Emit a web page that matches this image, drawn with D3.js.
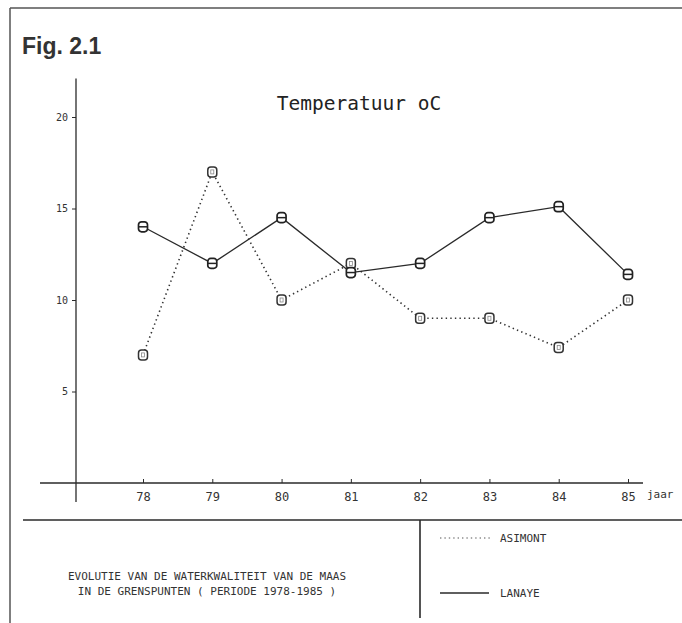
<!DOCTYPE html>
<html><head><meta charset="utf-8">
<script src="https://cdn.jsdelivr.net/npm/d3@7"></script>
<style>
html,body{margin:0;padding:0;background:#fff;overflow:hidden;}
svg{display:block;}
</style></head>
<body>
<script>
const years = [78, 79, 80, 81, 82, 83, 84, 85];
const asimont = [7, 17, 10, 12, 9, 9, 7.4, 10];
const lanaye = [14, 12, 14.5, 11.5, 12, 14.5, 15.1, 11.4];
const yTicks = [5, 10, 15, 20];
const seriesNames = ["ASIMONT", "LANAYE"];
const captionLines = ["EVOLUTIE VAN DE WATERKWALITEIT VAN DE MAAS", "IN DE GRENSPUNTEN ( PERIODE 1978-1985 )"];

const W = 682, H = 623;
const ink = "#2a2a2a";
const mono = "'DejaVu Sans Mono', 'Liberation Mono', monospace";
const svg = d3.select("body").append("svg").attr("width", W).attr("height", H);

const x = d3.scaleLinear().domain([78, 85]).range([143, 628]);
const y = d3.scaleLinear().domain([0, 20]).range([483, 117]);

// frame
svg.append("line").attr("x1", 10).attr("x2", 10).attr("y1", 8).attr("y2", H).attr("stroke", "#555").attr("stroke-width", 1.5);
svg.append("line").attr("x1", 10).attr("x2", W).attr("y1", 8).attr("y2", 8).attr("stroke", "#555").attr("stroke-width", 1.5);

svg.append("text").attr("x", 22).attr("y", 54).text("Fig. 2.1")
  .attr("font-family", "'Liberation Sans', Arial, sans-serif").attr("font-weight", "bold")
  .attr("font-size", 23).attr("fill", "#333");

svg.append("text").attr("x", 359).attr("y", 110).attr("text-anchor", "middle")
  .text("Temperatuur oC").attr("font-family", mono).attr("font-size", 19.5).attr("fill", "#222");

// axes
const x0 = x(78) - 103, x1 = x(85) + 15;
svg.append("line").attr("x1", x0).attr("x2", x1).attr("y1", y(0)).attr("y2", y(0)).attr("stroke", ink).attr("stroke-width", 1.3);
const yAxisX = 76;
svg.append("line").attr("x1", yAxisX).attr("x2", yAxisX).attr("y1", y(22.1)).attr("y2", y(0) + 19).attr("stroke", ink).attr("stroke-width", 1.3);

const xAxis = d3.axisTop(x).tickValues(years).tickSize(4).tickFormat(d => d);
const gx = svg.append("g").attr("transform", `translate(0,${y(0)})`).call(xAxis);
gx.select(".domain").remove();
gx.selectAll(".tick line").attr("stroke", ink);
gx.selectAll(".tick text").attr("y", 18).attr("dy", 0).attr("font-family", mono).attr("font-size", 12).attr("fill", "#333");
svg.append("text").attr("x", 647).attr("y", 498).text("jaar").attr("font-family", mono).attr("font-size", 11).attr("fill", "#333");

const yAxis = d3.axisLeft(y).tickValues(yTicks).tickSize(4).tickFormat(d => d);
const gy = svg.append("g").attr("transform", `translate(${yAxisX},0)`).call(yAxis);
gy.select(".domain").remove();
gy.selectAll(".tick line").attr("stroke", ink);
gy.selectAll(".tick text").attr("x", -8).attr("font-family", mono).attr("font-size", 10).attr("fill", "#333");

// lines
const line = d3.line().x((d, i) => x(years[i])).y(d => y(d));
svg.append("path").datum(asimont).attr("d", line).attr("fill", "none").attr("stroke", "#333")
  .attr("stroke-width", 1.6).attr("stroke-dasharray", "1.4,3.2");
svg.append("path").datum(lanaye).attr("d", line).attr("fill", "none").attr("stroke", ink).attr("stroke-width", 1.3);

// markers
const mw = 9, mh = 10;
const ga = svg.selectAll(".ma").data(asimont).enter().append("g")
  .attr("transform", (d, i) => `translate(${x(years[i])},${y(d)})`);
ga.append("rect").attr("x", -mw / 2).attr("y", -mh / 2).attr("width", mw).attr("height", mh).attr("rx", 3)
  .attr("fill", "#fff").attr("stroke", "#333").attr("stroke-width", 1.5);
ga.append("rect").attr("x", -1.5).attr("y", -2).attr("width", 3).attr("height", 4).attr("fill", "none").attr("stroke", "#888").attr("stroke-width", 0.8);

const gl = svg.selectAll(".ml").data(lanaye).enter().append("g")
  .attr("transform", (d, i) => `translate(${x(years[i])},${y(d)})`);
gl.append("rect").attr("x", -mw / 2).attr("y", -mh / 2).attr("width", mw).attr("height", mh).attr("rx", 3)
  .attr("fill", "#fff").attr("stroke", "#222").attr("stroke-width", 1.7);
gl.append("line").attr("x1", -mw / 2).attr("x2", mw / 2).attr("y1", 0).attr("y2", 0).attr("stroke", "#222").attr("stroke-width", 1.5);

// bottom panel
svg.append("line").attr("x1", 23).attr("x2", W).attr("y1", 520).attr("y2", 520).attr("stroke", ink).attr("stroke-width", 1.6);
svg.append("line").attr("x1", 420).attr("x2", 420).attr("y1", 520).attr("y2", 618).attr("stroke", ink).attr("stroke-width", 1.6);

const legY = [538, 593];
svg.append("line").attr("x1", 440).attr("x2", 490).attr("y1", legY[0]).attr("y2", legY[0]).attr("stroke", "#555")
  .attr("stroke-width", 1.2).attr("stroke-dasharray", "1.4,3");
svg.append("line").attr("x1", 440).attr("x2", 489).attr("y1", legY[1]).attr("y2", legY[1]).attr("stroke", ink).attr("stroke-width", 1.3);
seriesNames.forEach((n, i) => {
  svg.append("text").attr("x", 500).attr("y", legY[i] + 4).text(n)
    .attr("font-family", mono).attr("font-size", 11).attr("fill", "#333");
});

captionLines.forEach((t, i) => {
  svg.append("text").attr("x", 207).attr("y", 580 + i * 15).attr("text-anchor", "middle").text(t)
    .attr("font-family", mono).attr("font-size", 11).attr("fill", "#333");
});
</script>
</body></html>
